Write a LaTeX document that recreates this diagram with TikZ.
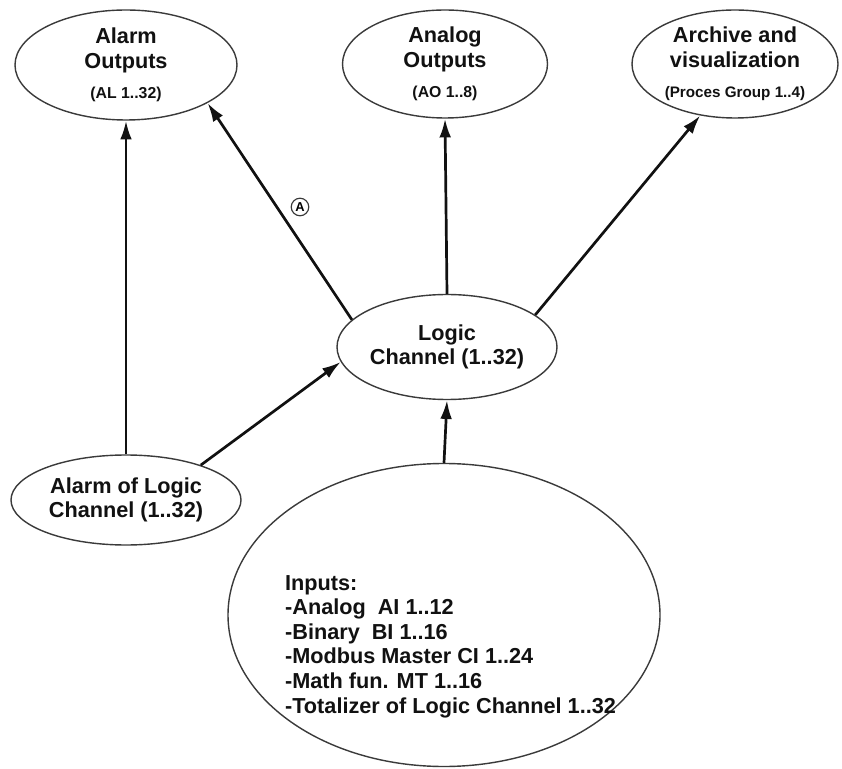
\documentclass[tikz,border=0pt]{standalone}
\usepackage{fontspec}
\setmainfont{Liberation Sans}
\usepackage{tikz}
\usetikzlibrary{arrows.meta,shapes.geometric}
\definecolor{LCInk}{HTML}{111111}
\definecolor{LCEdge}{HTML}{3A3A3A}

\begin{document}
\begin{tikzpicture}[x=0.03cm,y=-0.03cm,
    font=\fontsize{18.5}{21}\selectfont\bfseries,
    ell/.style={ellipse, draw=LCEdge, line width=1.2pt, inner sep=0pt, align=center, text=LCInk},
    flow/.style={line width=2.3pt, draw=LCInk, -{Latex[length=16pt,width=10pt]}}]
    \useasboundingbox (0,0) rectangle (842,769);
    \node[ell, minimum width=222*0.03cm, minimum height=110*0.03cm] (alarmout) at (126,65)
      {Alarm\\Outputs\\[5pt]{\fontsize{13.5}{15}\selectfont (AL 1..32)}};
    \node[ell, minimum width=205*0.03cm, minimum height=108*0.03cm] (analogout) at (445,64)
      {Analog\\Outputs\\[5pt]{\fontsize{13.5}{15}\selectfont (AO 1..8)}};
    \node[ell, minimum width=206*0.03cm, minimum height=108*0.03cm] (archive) at (735,64)
      {Archive and\\visualization\\[5pt]{\fontsize{13}{15}\selectfont (Proces Group 1..4)}};
    \node[ell, minimum width=220*0.03cm, minimum height=105*0.03cm] (logic) at (447,347)
      {Logic\\Channel (1..32)};
    \node[ell, minimum width=230*0.03cm, minimum height=90*0.03cm] (alarmlogic) at (126,500)
      {Alarm of Logic\\Channel (1..32)};
    \node[ell, minimum width=432*0.03cm, minimum height=303*0.03cm] (inputs) at (444,615) {};
    \node[anchor=north west, align=left, text=LCInk] (inputlist) at (281,571)
      {Inputs:\\-Analog\ \ AI 1..12\\-Binary\ \ BI 1..16\\-Modbus Master CI 1..24\\-Math fun. MT 1..16\\-Totalizer of Logic Channel 1..32};

    % connectors
    \draw[flow] (alarmlogic.north) -- (alarmout.south);
    \draw[flow] (alarmlogic.25) -- (logic.188);
    \draw[flow] (inputs.north) -- (logic.south);
    \draw[flow] (logic.164) -- (alarmout.335);
    \draw[flow] (logic.north) -- (analogout.south);
    \draw[flow] (logic.20) -- (archive.236);
    \node[circle, draw=LCEdge, line width=1pt, inner sep=1pt, minimum size=15pt,
      font=\fontsize{11}{11}\selectfont\bfseries] (markA) at (300,207) {A};
\end{tikzpicture}
\end{document}
